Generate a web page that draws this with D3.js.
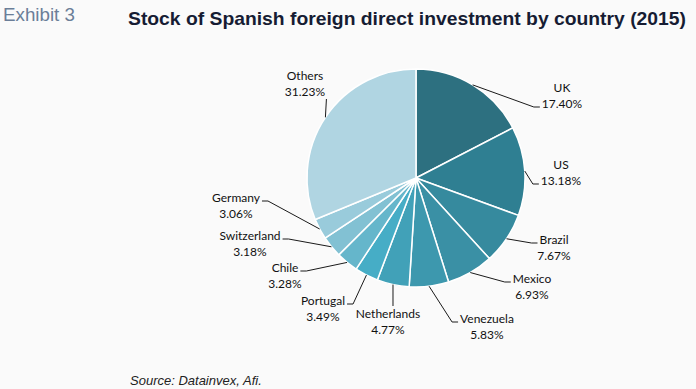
<!DOCTYPE html>
<html>
<head>
<meta charset="utf-8">
<script src="https://cdn.jsdelivr.net/npm/d3@7"></script>
<style>
  html, body { margin: 0; padding: 0; background: #fafafa; }
  svg { display: block; }
</style>
</head>
<body>
<svg id="the-chart"></svg>
<script>
// Data
const countries = ["UK", "US", "Brazil", "Mexico", "Venezuela", "Netherlands",
                   "Portugal", "Chile", "Switzerland", "Germany", "Others"];
const shares = [17.40, 13.18, 7.67, 6.93, 5.83, 4.77, 3.49, 3.28, 3.18, 3.06, 31.23];
const colors = ["#2d7080", "#2f7f92", "#368a9e", "#3a90a5", "#3d98ae", "#41a1b8",
                "#46adc6", "#65b6cb", "#82c1d3", "#99cbdb", "#b0d5e2"];

// Label placement: text block centre x and first baseline y, relative to the pie centre;
// side = where the leader line comes in, row = which text row it attaches to
const labelAt = [
    {x: 146, y: -86, side: "left", row: 2},
    {x: 145, y: -9, side: "left", row: 2},
    {x: 138, y: 66, side: "left", row: 1},
    {x: 116, y: 105, side: "left", row: 1},
    {x: 71, y: 145, side: "left", row: 1},
    {x: -28, y: 140, side: "top", row: 1},
    {x: -93, y: 127, side: "right", row: 1},
    {x: -131, y: 94, side: "right", row: 1},
    {x: -166, y: 62, side: "right", row: 1},
    {x: -180, y: 24, side: "right", row: 1},
    {x: -111, y: -98, side: "bottom", row: 2}
];

const width = 696;
const height = 389;
const cx = 416, cy = 178, radius = 109;
const lineGap = 16;
const labelFont = "Lato, Carlito, Calibri, sans-serif";

const data = countries.map((c, i) => ({country: c, share: shares[i], color: colors[i], lab: labelAt[i]}));
const pctText = d => d.share.toFixed(2) + "%";

const svg = d3.select("#the-chart")
    .attr("width", width)
    .attr("height", height)
    .attr("viewBox", [0, 0, width, height]);

svg.append("rect").attr("width", width).attr("height", height).attr("fill", "#fafafa");

// Header
svg.append("text")
    .attr("x", 3).attr("y", 21)
    .attr("font-family", "Liberation Sans, Arial, sans-serif")
    .attr("font-size", 18)
    .attr("fill", "#6b7e98")
    .attr("textLength", 72)
    .attr("lengthAdjust", "spacingAndGlyphs")
    .text("Exhibit 3");

svg.append("text")
    .attr("x", 128).attr("y", 25)
    .attr("font-family", "Liberation Sans, Arial, sans-serif")
    .attr("font-size", 19)
    .attr("font-weight", "bold")
    .attr("fill", "#161c33")
    .attr("textLength", 558)
    .attr("lengthAdjust", "spacingAndGlyphs")
    .text("Stock of Spanish foreign direct investment by country (2015)");

svg.append("text")
    .attr("x", 130).attr("y", 385)
    .attr("font-family", "Liberation Sans, Arial, sans-serif")
    .attr("font-size", 13)
    .attr("font-style", "italic")
    .attr("fill", "#222")
    .text("Source: Datainvex, Afi.");

// Pie
const pie = d3.pie().value(d => d.share).sort(null);
const arc = d3.arc().innerRadius(0).outerRadius(radius);
const arcs = pie(data);

const g = svg.append("g").attr("transform", `translate(${cx},${cy})`);

g.selectAll("path")
    .data(arcs)
    .join("path")
        .attr("d", arc)
        .attr("fill", d => d.data.color)
        .attr("stroke", "#fff")
        .attr("stroke-width", 1.5)
        .attr("stroke-linejoin", "round");

const measure = svg.append("text")
    .attr("font-family", labelFont)
    .attr("font-size", 12)
    .attr("visibility", "hidden");
function textWidth(s) {
    measure.text(s);
    return measure.node().getComputedTextLength();
}

// Leader lines: from the slice edge at mid angle to the label, with a short horizontal tail
const leader = d => {
    const a = (d.startAngle + d.endAngle) / 2;
    const p0 = [radius * Math.sin(a), -radius * Math.cos(a)];
    const l = d.data.lab;
    const s = l.row === 2 ? pctText(d.data) : d.data.country;
    const w = textWidth(s) / 2;
    const ey = l.y + (l.row === 2 ? lineGap : 0) - 1;
    if (l.side === "left") {
        const ex = l.x - w - 2;
        return [p0, [ex - 6, ey], [ex, ey]];
    }
    if (l.side === "right") {
        const ex = l.x + w + 2;
        return [p0, [ex + 6, ey], [ex, ey]];
    }
    if (l.side === "top") {
        return [p0, [p0[0], l.y - 12]];
    }
    return [p0, [p0[0] + 1, l.y + lineGap + 3]];
};

g.append("g")
    .attr("fill", "none")
    .attr("stroke", "#1a1a1a")
    .attr("stroke-width", 1)
    .selectAll("path")
    .data(arcs)
    .join("path")
        .attr("d", d => d3.line()(leader(d)));

const labels = g.append("g")
    .attr("font-family", labelFont)
    .attr("font-size", 12)
    .attr("fill", "#111")
    .attr("text-anchor", "middle")
    .selectAll("text")
    .data(arcs)
    .join("text")
        .attr("transform", d => `translate(${d.data.lab.x},${d.data.lab.y})`);

labels.append("tspan")
    .attr("x", 0).attr("y", 0)
    .text(d => d.data.country);
labels.append("tspan")
    .attr("x", 0).attr("y", lineGap)
    .text(d => pctText(d.data));
</script>
</body>
</html>
